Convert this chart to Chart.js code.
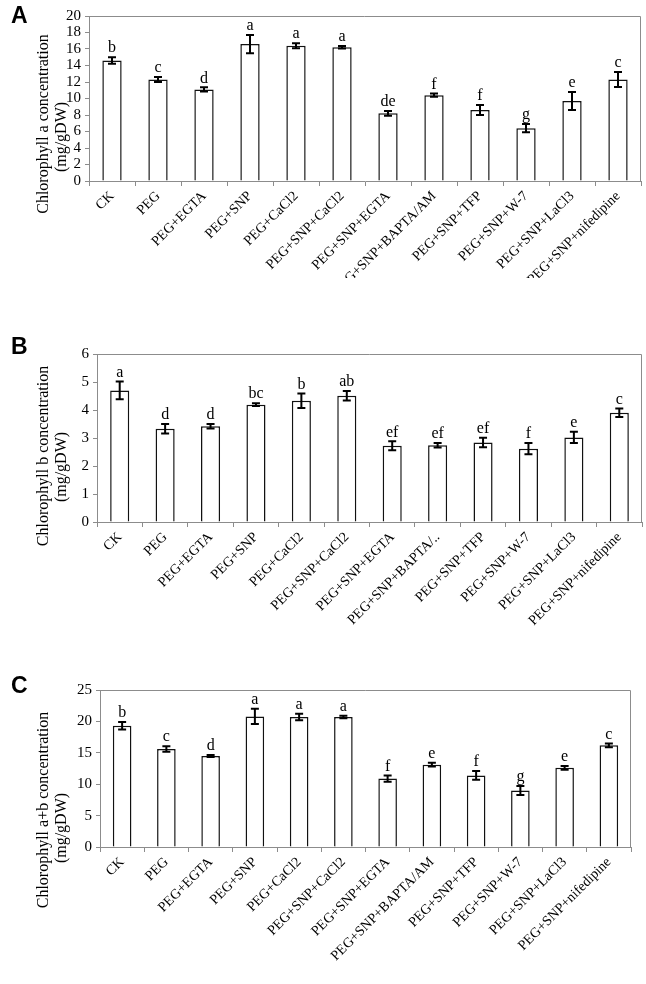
<!DOCTYPE html>
<html>
<head>
<meta charset="utf-8">
<script src="https://cdn.jsdelivr.net/npm/chart.js@4.4.0/dist/chart.umd.min.js"></script>
<style>
  html, body { margin: 0; padding: 0; background: #fff; }
  body { width: 646px; height: 984px; position: relative; overflow: hidden; }
  canvas { position: absolute; left: 0; }
</style>
</head>
<body>
<canvas id="chart-a" width="646" height="278" style="top:0"></canvas>
<canvas id="chart-b" width="646" height="330" style="top:300px"></canvas>
<canvas id="chart-c" width="646" height="344" style="top:640px"></canvas>
<script>
// treatments (x categories)
const treatments = ['CK', 'PEG', 'PEG+EGTA', 'PEG+SNP', 'PEG+CaCl2', 'PEG+SNP+CaCl2',
  'PEG+SNP+EGTA', 'PEG+SNP+BAPTA/AM', 'PEG+SNP+TFP', 'PEG+SNP+W-7', 'PEG+SNP+LaCl3', 'PEG+SNP+nifedipine'];
const treatmentsB = ['CK', 'PEG', 'PEG+EGTA', 'PEG+SNP', 'PEG+CaCl2', 'PEG+SNP+CaCl2',
  'PEG+SNP+EGTA', 'PEG+SNP+BAPTA/..', 'PEG+SNP+TFP', 'PEG+SNP+W-7', 'PEG+SNP+LaCl3', 'PEG+SNP+nifedipine'];

// A: chlorophyll a
const chlA = [14.6, 12.3, 11.1, 16.6, 16.4, 16.2, 8.2, 10.4, 8.6, 6.4, 9.7, 12.3];
const chlAErr = [0.4, 0.3, 0.25, 1.1, 0.3, 0.15, 0.3, 0.2, 0.6, 0.5, 1.1, 0.9];
const chlALetters = ['b', 'c', 'd', 'a', 'a', 'a', 'de', 'f', 'f', 'g', 'e', 'c'];

// B: chlorophyll b
const chlB = [4.7, 3.33, 3.42, 4.19, 4.33, 4.51, 2.72, 2.74, 2.84, 2.62, 3.02, 3.9];
const chlBErr = [0.32, 0.17, 0.08, 0.05, 0.26, 0.17, 0.16, 0.08, 0.17, 0.2, 0.2, 0.15];
const chlBLetters = ['a', 'd', 'd', 'bc', 'b', 'ab', 'ef', 'ef', 'ef', 'f', 'e', 'c'];

// C: chlorophyll a+b
const chlAB = [19.3, 15.6, 14.5, 20.8, 20.7, 20.7, 10.9, 13.1, 11.4, 9.0, 12.6, 16.2];
const chlABErr = [0.6, 0.45, 0.15, 1.2, 0.5, 0.2, 0.5, 0.3, 0.7, 0.7, 0.3, 0.3];
const chlABLetters = ['b', 'c', 'd', 'a', 'a', 'a', 'f', 'e', 'f', 'g', 'e', 'c'];

const serif = '"Liberation Serif", "Times New Roman", serif';
const axisGray = '#8c8c8c';

// error bars + significance letters
const errorBarPlugin = {
  id: 'errorBars',
  afterDatasetsDraw(chart, args, opts) {
    const ctx = chart.ctx;
    const y = chart.scales.y;
    const meta = chart.getDatasetMeta(0);
    ctx.save();
    ctx.strokeStyle = '#000';
    ctx.lineWidth = 2;
    ctx.fillStyle = '#000';
    ctx.font = '16px ' + serif;
    ctx.textAlign = 'center';
    ctx.textBaseline = 'bottom';
    meta.data.forEach((bar, i) => {
      const v = opts.values[i], e = opts.errors[i];
      const yt = y.getPixelForValue(v + e);
      const yb = y.getPixelForValue(v - e);
      ctx.beginPath();
      ctx.moveTo(bar.x, yt); ctx.lineTo(bar.x, yb);
      ctx.moveTo(bar.x - 4, yt); ctx.lineTo(bar.x + 4, yt);
      ctx.moveTo(bar.x - 4, yb); ctx.lineTo(bar.x + 4, yb);
      ctx.stroke();
      ctx.fillText(opts.letters[i], bar.x, yt - 1);
    });
    ctx.restore();
  }
};

// frame on top/right, panel letter, two-line y title
const decorPlugin = {
  id: 'decor',
  afterDraw(chart, args, opts) {
    const ctx = chart.ctx;
    const a = chart.chartArea;
    ctx.save();
    ctx.strokeStyle = axisGray;
    ctx.lineWidth = 1;
    ctx.beginPath();
    ctx.moveTo(a.left, a.top + 0.5); ctx.lineTo(a.right - 0.5, a.top + 0.5); ctx.lineTo(a.right - 0.5, a.bottom);
    ctx.stroke();

    ctx.fillStyle = '#000';
    ctx.font = 'bold 23px "Liberation Sans", Arial, sans-serif';
    ctx.textAlign = 'left';
    ctx.textBaseline = 'middle';
    ctx.fillText(opts.letter, 11, opts.letterY);

    ctx.font = '16px ' + serif;
    ctx.textAlign = 'center';
    ctx.textBaseline = 'alphabetic';
    opts.title.forEach(t => {
      ctx.save();
      ctx.translate(t.x, t.y);
      ctx.rotate(-Math.PI / 2);
      ctx.fillText(t.text, 0, 0);
      ctx.restore();
    });
    ctx.restore();
  }
};

function makeChart(id, labels, values, errors, letters, yMax, yStep, box, decor) {
  const canvas = document.getElementById(id);
  const H = canvas.height;
  return new Chart(canvas, {
    type: 'bar',
    data: {
      labels: labels,
      datasets: [{
        data: values,
        backgroundColor: '#ffffff',
        borderColor: '#111',
        borderWidth: 1.5,
        categoryPercentage: 1,
        barPercentage: 0.42,
      }],
    },
    plugins: [errorBarPlugin, decorPlugin],
    options: {
      responsive: false,
      animation: false,
      layout: { padding: { left: 0, right: 646 - box.right, top: box.top, bottom: 0 } },
      plugins: {
        legend: { display: false },
        tooltip: { enabled: false },
        errorBars: { values: values, errors: errors, letters: letters },
        decor: decor,
      },
      scales: {
        x: {
          afterFit: s => { s.height = H - box.bottom; },
          grid: { drawOnChartArea: false, offset: true, tickLength: 5, color: axisGray },
          border: { color: axisGray },
          ticks: {
            autoSkip: false, minRotation: 45, maxRotation: 45, padding: 2,
            color: '#000', font: { family: serif, size: 14 },
          },
        },
        y: {
          min: 0, max: yMax,
          afterFit: s => { s.width = box.left; },
          grid: { drawOnChartArea: false, tickLength: 4, color: axisGray },
          border: { color: axisGray },
          ticks: { stepSize: yStep, autoSkip: false, padding: 4, color: '#000', font: { family: serif, size: 15 } },
        },
      },
    },
  });
}

makeChart('chart-a', treatments, chlA, chlAErr, chlALetters, 20, 2,
  { left: 89, right: 641, top: 16, bottom: 181 },
  { letter: 'A', letterY: 17, title: [
    { text: 'Chlorophyll a concentration', x: 48, y: 124 },
    { text: '(mg/gDW)', x: 66, y: 137 } ] });

makeChart('chart-b', treatmentsB, chlB, chlBErr, chlBLetters, 6, 1,
  { left: 97, right: 642, top: 54, bottom: 222 },
  { letter: 'B', letterY: 48, title: [
    { text: 'Chlorophyll b concentration', x: 48, y: 156 },
    { text: '(mg/gDW)', x: 66, y: 167 } ] });

makeChart('chart-c', treatments, chlAB, chlABErr, chlABLetters, 25, 5,
  { left: 100, right: 631, top: 50, bottom: 207 },
  { letter: 'C', letterY: 47, title: [
    { text: 'Chlorophyll a+b concentration', x: 48, y: 170 },
    { text: '(mg/gDW)', x: 66, y: 188 } ] });
</script>
</body>
</html>
